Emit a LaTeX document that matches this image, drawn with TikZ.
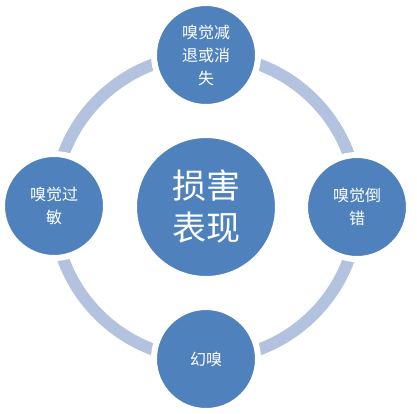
\documentclass[tikz,border=0pt]{standalone}
\usepackage{fontspec}
\newfontfamily\cjk{Noto Sans CJK SC}
\definecolor{nodeblue}{HTML}{4F81BD}
\definecolor{ringblue}{HTML}{B3C3DF}
\begin{document}
\begin{tikzpicture}[x=1pt,y=-1pt,
  sat/.style={circle,fill=nodeblue,draw=white,line width=6pt,minimum size=104pt,inner sep=0pt,
    text=white,align=center,font=\cjk\fontsize{16}{23}\selectfont},
  hub/.style={circle,fill=nodeblue,draw=white,line width=2pt,minimum size=140pt,inner sep=0pt,
    text=white,align=center,font=\cjk\fontsize{34}{42}\selectfont},
  ring/.style={draw=ringblue,line width=12pt}]
\useasboundingbox (0,0) rectangle (417,413);
\coordinate (c) at (206,207);
\draw[ring] (c) circle[radius=152];
\node[hub] (hub) at (c) {损害\\表现};
\node[sat] (top) at (206,55) {嗅觉减\\退或消\\失};
\node[sat] (right) at (357,207) {嗅觉倒\\错};
\node[sat] (bottom) at (206,359) {幻嗅};
\node[sat] (left) at (54,206) {嗅觉过\\敏};
\end{tikzpicture}
\end{document}
